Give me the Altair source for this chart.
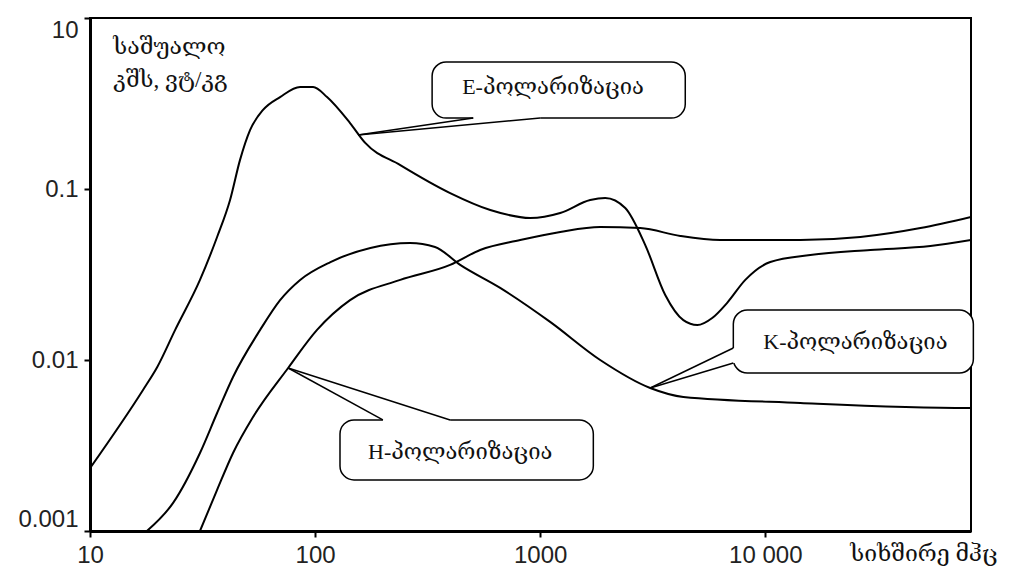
import altair as alt
import pandas as pd

# ---- curve data (frequency MHz, mean SAR W/kg) ----
e_freq = [10, 17.2, 19.9, 23.9, 30.8, 36.7, 41.9, 46.4, 51.4, 58.7, 69.9, 85.8, 98.0, 113, 143, 167, 239, 398, 600, 903, 1227, 1668, 1944, 2387, 2929, 3593, 4325, 4990, 5810, 6770, 8150, 10520, 15850, 29290, 54100, 82000]
e_val = [0.00233, 0.00668, 0.0091, 0.0150, 0.0294, 0.0524, 0.0862, 0.148, 0.221, 0.290, 0.345, 0.395, 0.395, 0.345, 0.243, 0.186, 0.138, 0.0947, 0.0754, 0.0677, 0.0724, 0.0862, 0.0886, 0.0774, 0.0470, 0.0240, 0.0171, 0.0160, 0.0176, 0.0216, 0.0294, 0.0374, 0.0411, 0.0440, 0.0464, 0.0503]

k_freq = [17.9, 23.4, 30.8, 36.7, 43.2, 57.0, 69.9, 85.8, 117, 176, 264, 341, 441, 664, 1107, 1847, 3081, 4325, 14310, 80000, 82000]
k_val = [0.001, 0.00146, 0.00286, 0.00490, 0.00796, 0.0150, 0.0224, 0.0294, 0.0374, 0.0452, 0.0483, 0.0458, 0.0360, 0.0264, 0.0167, 0.0100, 0.00686, 0.00608, 0.00561, 0.00524, 0.00524]

h_freq = [30.8, 36.7, 43.2, 53.0, 75.9, 102, 143, 239, 398, 541, 815, 1227, 1847, 2783, 4190, 6310, 14310, 26430, 48900, 82000]
h_val = [0.001, 0.00174, 0.00286, 0.00464, 0.00898, 0.0150, 0.0224, 0.0294, 0.0360, 0.0440, 0.0503, 0.0561, 0.0600, 0.0591, 0.0531, 0.0503, 0.0503, 0.0524, 0.0591, 0.0686]

x_ticks = [10, 100, 1000, 10000]
y_ticks = [0.001, 0.01, 0.1, 1]

# ---- callouts ----
bubble_label = ["E-პოლარიზაცია", "K-პოლარიზაცია", "H-პოლარიზაცია"]
bubble_x1 = [331, 7210, 129]
bubble_x2 = [4410, 84000, 1722]
bubble_y1 = [0.553, 0.0196, 0.00446]
bubble_y2 = [0.260, 0.0084, 0.00199]
text_x = [450, 9800, 172]
text_y = [0.395, 0.01274, 0.0029]
tip_x = [155, 3081, 75.9]
tip_y = [0.207, 0.00686, 0.00898]
base1_x = [504, 7210, 200]
base1_y = [0.260, 0.01175, 0.00446]
base2_x = [1000, 7210, 398]
base2_y = [0.260, 0.0096, 0.00446]

ytitle_lines = ["საშუალო", "კშს, ვტ/კგ"]
ytitle_x = [12.7, 12.7]
ytitle_y = [0.676, 0.434]
xtitle = "სიხშირე მჰც"
xtitle_x = 23870

rows = []
for name, fs, vs in [("E", e_freq, e_val), ("K", k_freq, k_val), ("H", h_freq, h_val)]:
    for f, v in zip(fs, vs):
        rows.append({"series": name, "freq": f, "val": v})
df = pd.DataFrame(rows)

bub = pd.DataFrame({"label": bubble_label, "x1": bubble_x1, "x2": bubble_x2,
                    "y1": bubble_y1, "y2": bubble_y2, "tx": text_x, "ty": text_y})
ptr = pd.DataFrame({
    "x1": tip_x + tip_x, "y1": tip_y + tip_y,
    "x2": base1_x + base2_x, "y2": base1_y + base2_y})
gap = pd.DataFrame({"x1": base1_x, "y1": base1_y, "x2": base2_x, "y2": base2_y})
yt = pd.DataFrame({"t": ytitle_lines, "x": ytitle_x, "y": ytitle_y})
xt = pd.DataFrame({"t": [xtitle], "x": [xtitle_x]})

xs = alt.Scale(type="log", domain=[10, 82000], nice=False)
ys = alt.Scale(type="log", domain=[0.001, 1], nice=False)

SERIF = "Liberation Serif, DejaVu Serif, DejaVu Sans"

lines = alt.Chart(df).mark_line(color="black", strokeWidth=2, interpolate="monotone", clip=True).encode(
    x=alt.X("freq:Q", scale=xs, title=None,
            axis=alt.Axis(values=x_ticks, labelFlush=False,
                          labelExpr="datum.value > 5000 ? '10 000' : format(datum.value, 'd')")),
    y=alt.Y("val:Q", scale=ys, title=None,
            axis=alt.Axis(values=y_ticks, labelFlush=True,
                          labelExpr="datum.value > 0.5 ? '10' : datum.value > 0.05 ? '0.1' : datum.value > 0.005 ? '0.01' : '0.001'")),
    detail="series:N",
)

rects = alt.Chart(bub).mark_rect(fill="white", stroke="black", strokeWidth=1.5, cornerRadius=14).encode(
    x=alt.X("x1:Q", scale=xs), x2="x2:Q",
    y=alt.Y("y1:Q", scale=ys), y2="y2:Q",
)

gaps = alt.Chart(gap).mark_rule(color="white", strokeWidth=4).encode(
    x=alt.X("x1:Q", scale=xs), x2="x2:Q",
    y=alt.Y("y1:Q", scale=ys), y2="y2:Q",
)

ptrs = alt.Chart(ptr).mark_rule(color="black", strokeWidth=1.5).encode(
    x=alt.X("x1:Q", scale=xs), x2="x2:Q",
    y=alt.Y("y1:Q", scale=ys), y2="y2:Q",
)

texts = alt.Chart(bub).mark_text(align="left", baseline="middle", font=SERIF, fontSize=22, color="#111").encode(
    x=alt.X("tx:Q", scale=xs), y=alt.Y("ty:Q", scale=ys), text="label:N",
)

ytitle = alt.Chart(yt).mark_text(align="left", baseline="middle", font=SERIF, fontSize=23, color="#111").encode(
    x=alt.X("x:Q", scale=xs), y=alt.Y("y:Q", scale=ys), text="t:N",
)

xtitle_m = alt.Chart(xt).mark_text(align="left", baseline="middle", font=SERIF, fontSize=23, color="#111").encode(
    x=alt.X("x:Q", scale=xs), y=alt.value(536), text="t:N",
)

chart = alt.layer(lines, rects, gaps, ptrs, texts, ytitle, xtitle_m).properties(
    width=881, height=513,
    padding={"left": 82, "top": 10, "right": 30, "bottom": 44},
    autosize="none",
).configure_view(
    stroke="black", strokeWidth=2,
).configure_axis(
    grid=False, domainColor="black", domainWidth=3, tickColor="black", tickWidth=2, tickSize=6,
    labelFont="Liberation Sans", labelFontSize=24, labelColor="#222", labelPadding=6,
)

chart.save("out.html", embed_options={"renderer": "svg", "actions": False})
